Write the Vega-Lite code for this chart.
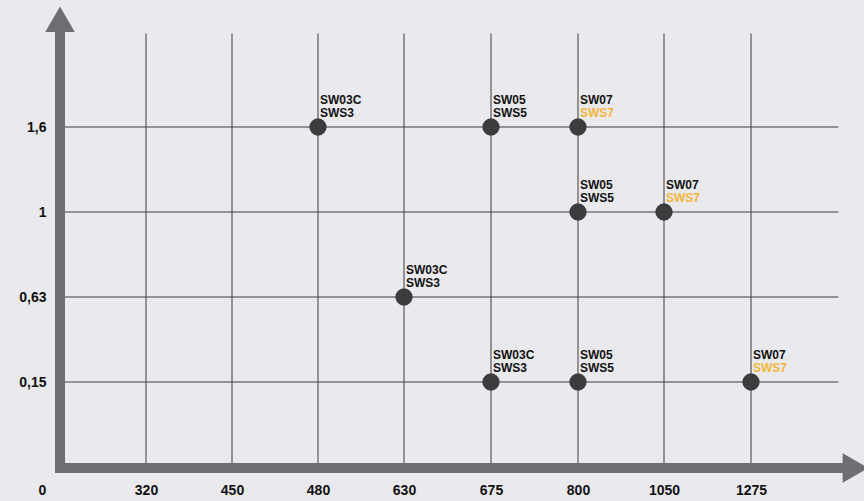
{
  "$schema": "https://vega.github.io/schema/vega-lite/v6.json",
  "width": 778,
  "height": 435,
  "autosize": "none",
  "padding": {"left": 60, "top": 33, "right": 26, "bottom": 33},
  "background": "#eaeaee",
  "config": {"view": {"stroke": null}},
  "datasets": {
    "pts": [
      {"x": 480, "y": 1.6, "top": "SW03C", "bottom": "SWS3"},
      {"x": 675, "y": 1.6, "top": "SW05", "bottom": "SWS5"},
      {"x": 800, "y": 1.6, "top": "SW07", "bottom": "SWS7"},
      {"x": 800, "y": 1, "top": "SW05", "bottom": "SWS5"},
      {"x": 1050, "y": 1, "top": "SW07", "bottom": "SWS7"},
      {"x": 630, "y": 0.63, "top": "SW03C", "bottom": "SWS3"},
      {"x": 675, "y": 0.15, "top": "SW03C", "bottom": "SWS3"},
      {"x": 800, "y": 0.15, "top": "SW05", "bottom": "SWS5"},
      {"x": 1275, "y": 0.15, "top": "SW07", "bottom": "SWS7"}
    ]
  },
  "encoding": {
    "x": {
      "field": "x",
      "type": "quantitative",
      "scale": {"domain": [0, 320, 450, 480, 630, 675, 800, 1050, 1275], "range": [0, 86, 172, 258, 344, 431, 518, 604, 691], "zero": false, "nice": false},
      "axis": {
        "values": [0, 320, 450, 480, 630, 675, 800, 1050, 1275],
        "format": "d",
        "title": null,
        "domain": false,
        "ticks": false,
        "grid": false,
        "labelFont": "Liberation Sans",
        "labelFontWeight": "bold",
        "labelFontSize": 14,
        "labelColor": "#111111",
        "labelBaseline": "middle",
        "labelPadding": 22,
        "labelFlush": false,
        "labelOverlap": false,
        "labelBound": false,
        "labelOffset": {"condition": {"test": "datum.value == 0", "value": -18}, "value": 0}
      }
    },
    "y": {
      "field": "y",
      "type": "quantitative",
      "scale": {"domain": [0, 0.15, 0.63, 1, 1.6], "range": [435, 349, 264, 179, 94], "zero": false, "nice": false},
      "axis": {
        "values": [0.15, 0.63, 1, 1.6],
        "title": null,
        "domain": false,
        "ticks": false,
        "grid": false,
        "labelExpr": "replace(format(datum.value, '~g'), '.', ',')",
        "labelFont": "Liberation Sans",
        "labelFontWeight": "bold",
        "labelFontSize": 14,
        "labelColor": "#111111",
        "labelAlign": "right",
        "labelBaseline": "middle",
        "labelPadding": 14,
        "labelFlush": false,
        "labelOverlap": false,
        "labelBound": false
      }
    }
  },
  "layer": [
    {
      "data": {"values": [
        {"x": 320, "y": 0, "y2": 2.26},
        {"x": 450, "y": 0, "y2": 2.26},
        {"x": 480, "y": 0, "y2": 2.26},
        {"x": 630, "y": 0, "y2": 2.26},
        {"x": 675, "y": 0, "y2": 2.26},
        {"x": 800, "y": 0, "y2": 2.26},
        {"x": 1050, "y": 0, "y2": 2.26},
        {"x": 1275, "y": 0, "y2": 2.26}
      ]},
      "mark": {"type": "rule", "strokeWidth": 1, "color": "#3c3c3c"},
      "encoding": {"y2": {"field": "y2"}}
    },
    {
      "data": {"values": [
        {"x": 0, "x2": 1501, "y": 0.15},
        {"x": 0, "x2": 1501, "y": 0.63},
        {"x": 0, "x2": 1501, "y": 1},
        {"x": 0, "x2": 1501, "y": 1.6}
      ]},
      "mark": {"type": "rule", "strokeWidth": 1, "color": "#3c3c3c"},
      "encoding": {"x2": {"field": "x2"}}
    },
    {
      "data": {"values": [
        {"x": 0, "y": 0, "x2": 0, "y2": 2.27},
        {"x": 0, "y": 0, "x2": 1512, "y2": 0}
      ]},
      "mark": {"type": "rule", "strokeWidth": 10, "strokeCap": "square", "color": "#6e6e72"},
      "encoding": {"x2": {"field": "x2"}, "y2": {"field": "y2"}}
    },
    {
      "data": {"values": [
        {"x": 0, "y": 2.36, "shape": "triangle-up"},
        {"x": 1545, "y": 0, "shape": "triangle-right"}
      ]},
      "mark": {"type": "point", "filled": true, "opacity": 1, "size": 870, "color": "#6e6e72"},
      "encoding": {"shape": {"field": "shape", "type": "nominal", "scale": null}}
    },
    {
      "data": {"name": "pts"},
      "mark": {"type": "circle", "size": 300, "opacity": 1, "color": "#3c3c3e"}
    },
    {
      "data": {"name": "pts"},
      "mark": {"type": "text", "align": "left", "baseline": "middle", "dx": 2, "dy": -27, "font": "Liberation Sans", "fontWeight": "bold", "fontSize": 12, "color": "#111111"},
      "encoding": {"text": {"field": "top"}}
    },
    {
      "data": {"name": "pts"},
      "mark": {"type": "text", "align": "left", "baseline": "middle", "dx": 2, "dy": -14, "font": "Liberation Sans", "fontWeight": "bold", "fontSize": 12},
      "encoding": {
        "text": {"field": "bottom"},
        "color": {"field": "bottom", "type": "nominal", "scale": {"domain": ["SWS3", "SWS5", "SWS7"], "range": ["#111111", "#111111", "#f2b53b"]}, "legend": null}
      }
    }
  ]
}
